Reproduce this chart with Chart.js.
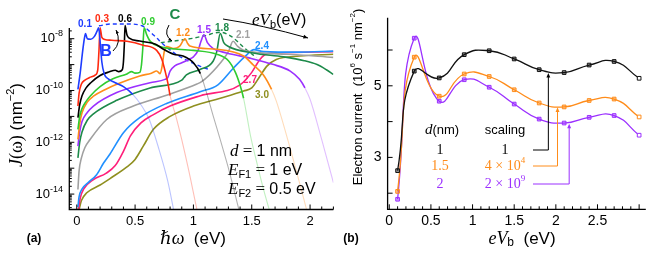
<!DOCTYPE html>
<html>
<head>
<meta charset="utf-8">
<script src="https://cdn.jsdelivr.net/npm/chart.js@4.4.1/dist/chart.umd.min.js"></script>
<style>
  html, body { margin: 0; padding: 0; background: #fff; }
  #wrap { position: relative; width: 664px; height: 257px; }
  #ca { position: absolute; left: 0; top: 0; }
  #cb { position: absolute; left: 340px; top: 0; }
</style>
</head>
<body>
<div id="wrap">
  <canvas id="ca" width="340" height="257"></canvas>
  <canvas id="cb" width="324" height="257"></canvas>
</div>
<script>
// ---- panel (a): pairs [ħω (eV), log10 J(ω)] ----
const eVbLabels = ["0.1", "0.3", "0.6", "0.9", "1.2", "1.5", "1.8", "2.1", "2.4", "2.7", "3.0"];
const J01 = [[0.01,-9.96],[0.03,-9.3],[0.05,-8.5],[0.065,-8.0],[0.075,-7.8],[0.09,-8.0],[0.12,-8.02],[0.15,-7.92],[0.175,-7.7],[0.188,-7.58],[0.2,-8.1],[0.215,-8.9],[0.235,-9.35],[0.27,-9.55],[0.33,-9.7],[0.4,-9.85],[0.48,-10.15],[0.55,-10.55],[0.62,-11.1],[0.7,-12.2],[0.78,-13.5],[0.83,-14.6]];
const J03 = [[0.01,-10.6],[0.02,-10.1],[0.04,-9.75],[0.07,-9.6],[0.11,-9.5],[0.16,-9.4],[0.18,-9.2],[0.19,-8.5],[0.2,-7.58],[0.215,-7.95],[0.24,-8.03],[0.3,-8.06],[0.43,-8.1],[0.57,-8.25],[0.685,-8.45],[0.73,-8.8],[0.76,-9.3],[0.785,-9.8],[0.8,-10.2],[0.85,-11.0],[0.9,-11.9],[0.97,-13.3],[1.03,-14.6]];
const J06 = [[0.01,-11.05],[0.025,-10.55],[0.045,-10.2],[0.08,-9.9],[0.12,-9.7],[0.2,-9.42],[0.28,-9.28],[0.33,-9.22],[0.36,-9.27],[0.39,-9.2],[0.4,-8.9],[0.408,-8.2],[0.414,-7.49],[0.43,-7.85],[0.45,-7.98],[0.54,-8.09],[0.68,-8.22],[0.74,-8.4],[0.83,-8.6],[0.91,-8.67],[1.0,-8.93],[1.06,-9.35],[1.12,-10.2],[1.17,-10.99],[1.23,-11.9],[1.3,-13.0],[1.39,-14.6]];
const J09 = [[0.01,-11.5],[0.025,-11.0],[0.045,-10.7],[0.08,-10.42],[0.114,-10.22],[0.2,-9.85],[0.31,-9.55],[0.43,-9.36],[0.47,-9.27],[0.5,-9.33],[0.54,-9.3],[0.555,-9.0],[0.567,-8.3],[0.577,-7.58],[0.6,-7.85],[0.63,-8.1],[0.71,-8.3],[1.0,-8.45],[1.2,-8.6],[1.3,-8.85],[1.36,-9.3],[1.4,-9.8],[1.43,-10.3],[1.49,-11.76],[1.55,-12.9],[1.6,-13.8],[1.65,-14.6]];
const J12 = [[0.01,-11.89],[0.025,-11.3],[0.045,-10.86],[0.09,-10.45],[0.143,-10.22],[0.25,-9.95],[0.343,-9.76],[0.54,-9.44],[0.64,-9.33],[0.685,-9.25],[0.715,-9.35],[0.73,-9.1],[0.75,-8.5],[0.77,-8.3],[0.83,-8.38],[0.88,-8.3],[0.928,-8.0],[0.95,-8.18],[0.97,-8.28],[1.2,-8.41],[1.43,-8.67],[1.51,-9.0],[1.6,-9.4],[1.67,-9.96],[1.71,-10.4],[1.8,-11.76],[1.9,-13.4],[1.97,-14.6]];
const J15 = [[0.01,-12.15],[0.025,-11.6],[0.045,-11.2],[0.09,-10.85],[0.143,-10.6],[0.343,-10.08],[0.628,-9.7],[0.757,-9.57],[0.78,-9.5],[0.8,-9.25],[0.84,-9.05],[0.9,-8.93],[0.96,-8.8],[1.0,-8.7],[1.04,-8.45],[1.065,-8.1],[1.09,-7.85],[1.12,-8.15],[1.17,-8.38],[1.285,-8.55],[1.485,-8.75],[1.68,-8.99],[1.83,-9.25],[1.91,-9.57],[1.956,-9.9],[2.0,-10.34],[2.1,-11.9],[2.2,-13.56]];
const J18 = [[0.01,-12.6],[0.025,-12.0],[0.045,-11.6],[0.09,-11.15],[0.143,-10.9],[0.343,-10.38],[0.628,-9.9],[0.9,-9.6],[0.92,-9.5],[0.94,-9.4],[1.057,-9.19],[1.17,-8.86],[1.2,-8.5],[1.23,-7.8],[1.26,-8.15],[1.3,-8.3],[1.51,-8.55],[1.77,-8.7],[1.95,-8.85],[2.06,-9.0],[2.14,-9.2],[2.2,-9.38]];
const J21 = [[0.01,-13.82],[0.02,-13.1],[0.04,-12.6],[0.07,-12.2],[0.114,-11.89],[0.257,-11.12],[0.485,-10.6],[0.77,-10.18],[1.03,-9.75],[1.07,-9.66],[1.2,-9.1],[1.3,-8.5],[1.34,-8.1],[1.38,-8.3],[1.43,-8.45],[1.8,-8.6],[2.2,-8.72]];
const J24 = [[0.01,-14.5],[0.02,-14.1],[0.043,-13.82],[0.1,-13.55],[0.17,-13.25],[0.23,-12.8],[0.285,-12.45],[0.4,-11.63],[0.54,-11.05],[0.77,-10.5],[1.057,-10.05],[1.21,-9.78],[1.34,-9.15],[1.45,-8.65],[1.52,-8.42],[1.6,-8.5],[1.9,-8.52],[2.2,-8.48]];
const J27 = [[0.015,-14.6],[0.03,-14.15],[0.06,-13.8],[0.14,-13.45],[0.25,-13.2],[0.33,-12.9],[0.4,-12.35],[0.46,-11.75],[0.55,-11.25],[0.65,-10.95],[0.8,-10.6],[1.06,-10.2],[1.4,-9.78],[1.5,-9.3],[1.57,-8.8],[1.63,-8.58],[1.75,-8.54],[2.2,-8.5]];
const J30 = [[0.02,-14.6],[0.04,-14.25],[0.086,-13.95],[0.2,-13.65],[0.285,-13.4],[0.43,-12.95],[0.5,-12.66],[0.57,-12.15],[0.657,-11.5],[0.8,-11.0],[1.0,-10.6],[1.23,-10.3],[1.43,-10.02],[1.5,-9.9],[1.57,-9.45],[1.63,-9.06],[1.71,-8.8],[1.91,-8.67],[2.2,-8.6]];
// where each curve turns pale (ħω, eV); null = stays solid
const fadeFrom = [0.48, 0.8, 1.06, 1.43, 1.67, 1.956, null, null, null, null, null];
// dashed loci of peaks B and C
const locusB = [[0.19,-7.5],[0.3,-7.43],[0.42,-7.43],[0.56,-7.5],[0.62,-7.7],[0.68,-7.95],[0.75,-8.25],[0.85,-8.6],[0.95,-8.85],[1.05,-9.05],[1.14,-9.2]];
const locusC = [[0.72,-8.15],[0.85,-8.08],[1.0,-7.98],[1.1,-7.88],[1.23,-7.75],[1.32,-7.9],[1.4,-8.2],[1.46,-8.45],[1.54,-8.72]];
const decadeLabels = [-8, -10, -12, -14];

// ---- panel (b): electron current (10^6 s^-1 nm^-2) ----
const eVb = [0.1, 0.3, 0.6, 0.9, 1.2, 1.5, 1.8, 2.1, 2.4, 2.7, 3.0];
const currentD1 = [2.63, 5.41, 5.22, 5.87, 5.98, 5.75, 5.45, 5.37, 5.58, 5.68, 5.21];
const currentD15 = [2.05, 5.80, 4.71, 5.33, 5.26, 4.89, 4.52, 4.41, 4.59, 4.63, 4.13];
const currentD2 = [1.83, 6.33, 4.57, 5.17, 4.96, 4.49, 4.07, 3.96, 4.12, 4.17, 3.62];

const colorsA = ["#1e3cff", "#ff2a10", "#000000", "#30cc30", "#ff8c1a", "#9b30ff", "#1d8a4a", "#a0a0a0", "#2190ff", "#ff1f7a", "#8f8f1f"];
const SANS = '"Liberation Sans", Arial, sans-serif';
const SERIF = '"Liberation Serif", "DejaVu Serif", serif';

function pale(hex, a) {
    const n = parseInt(hex.slice(1), 16);
    return "rgba(" + (n >> 16) + "," + ((n >> 8) & 255) + "," + (n & 255) + "," + a + ")";
}

function toPoints(pairs) {
    return pairs.map(p => ({ x: p[0], y: Math.pow(10, p[1]) }));
}

// draw a row of text pieces: [text, font, dy, color]
function rich(ctx, x, y, parts, align) {
    let w = 0;
    parts.forEach(p => { ctx.font = p[1]; w += ctx.measureText(p[0]).width; });
    let cx = align === "center" ? x - w / 2 : (align === "right" ? x - w : x);
    ctx.textAlign = "left";
    ctx.textBaseline = "middle";
    parts.forEach(p => {
        ctx.font = p[1];
        if (p[3]) ctx.fillStyle = p[3];
        ctx.fillText(p[0], cx, y + (p[2] || 0));
        cx += ctx.measureText(p[0]).width;
    });
}

function arrowHead(ctx, x, y, ang, size) {
    ctx.beginPath();
    ctx.moveTo(x, y);
    ctx.lineTo(x - size * Math.cos(ang - 0.4), y - size * Math.sin(ang - 0.4));
    ctx.lineTo(x - size * Math.cos(ang + 0.4), y - size * Math.sin(ang + 0.4));
    ctx.closePath();
    ctx.fill();
}

function curvedArrow(ctx, x0, y0, cx, cy, x1, y1, color, size) {
    ctx.strokeStyle = color;
    ctx.fillStyle = color;
    ctx.lineWidth = 1;
    ctx.beginPath();
    ctx.moveTo(x0, y0);
    ctx.quadraticCurveTo(cx, cy, x1, y1);
    ctx.stroke();
    arrowHead(ctx, x1, y1, Math.atan2(y1 - cy, x1 - cx), size);
}

// ---------------- panel (a) ----------------
const seriesA = [J01, J03, J06, J09, J12, J15, J18, J21, J24, J27, J30];
const datasetsA = seriesA.map((pairs, i) => {
    const col = colorsA[i];
    const f = fadeFrom[i];
    return {
        label: eVbLabels[i],
        data: toPoints(pairs),
        borderColor: col,
        borderWidth: 1.6,
        pointRadius: 0,
        cubicInterpolationMode: "monotone",
        segment: {
            borderColor: c => (f !== null && c.p0.parsed.x >= f - 1e-6) ? pale(col, 0.3) : col,
            borderWidth: c => (f !== null && c.p0.parsed.x >= f - 1e-6) ? 1.1 : 1.6
        }
    };
});
datasetsA.push({
    label: "B", data: toPoints(locusB), borderColor: "#1e3cff", borderWidth: 1.4,
    borderDash: [4, 3], pointRadius: 0, cubicInterpolationMode: "monotone", clip: false
});
datasetsA.push({
    label: "C", data: toPoints(locusC), borderColor: "#1d8a4a", borderWidth: 1.4,
    borderDash: [4, 3], pointRadius: 0, cubicInterpolationMode: "monotone", clip: false
});

const decorA = {
    id: "decorA",
    afterDraw(chart) {
        const { ctx, chartArea: a, scales: { x, y } } = chart;
        ctx.save();
        ctx.strokeStyle = "#000";
        ctx.lineWidth = 1.3;
        ctx.beginPath();
        ctx.moveTo(a.left, 28);
        ctx.lineTo(a.left, a.bottom);
        ctx.lineTo(a.right, a.bottom);
        ctx.stroke();
        ctx.lineWidth = 1;
        // x ticks (inward)
        for (let i = 0; i <= 22; i++) {
            const px = x.getPixelForValue(i / 10);
            const len = i % 5 === 0 ? 5 : 3;
            ctx.beginPath(); ctx.moveTo(px, a.bottom); ctx.lineTo(px, a.bottom - len); ctx.stroke();
        }
        // y ticks, log decades with minor ticks
        for (let e = -15; e <= -7; e++) {
            for (let k = 1; k <= 9; k++) {
                const v = k * Math.pow(10, e);
                if (v < y.min || v > y.max) continue;
                const py = y.getPixelForValue(v);
                if (py < 28) continue;
                const len = k === 1 ? 5 : 2.5;
                ctx.beginPath(); ctx.moveTo(a.left, py); ctx.lineTo(a.left + len, py); ctx.stroke();
            }
        }
        ctx.fillStyle = "#000";
        // tick labels
        for (let i = 0; i <= 4; i++) {
            const v = i / 2;
            rich(ctx, x.getPixelForValue(v), a.bottom + 12, [[String(v), "13px " + SANS]], "center");
        }
        decadeLabels.forEach(e => {
            const py = y.getPixelForValue(Math.pow(10, e));
            rich(ctx, 63, py, [["10", "13px " + SANS], [String(e), "9px " + SANS, -5]], "right");
        });
        // axis titles
        rich(ctx, 193, 239, [["\u210F\u03C9", "italic 18px " + SERIF], ["  (eV)", "17px " + SANS]], "center");
        ctx.save();
        ctx.translate(17, 125);
        ctx.rotate(-Math.PI / 2);
        rich(ctx, 0, 0, [["J", "italic 18px " + SERIF], ["(\u03C9)", "18px " + SERIF], [" (nm", "17px " + SANS], ["\u22122", "11px " + SANS, -6], [")", "17px " + SANS]], "center");
        ctx.restore();
        rich(ctx, 34, 239, [["(a)", "bold 12px " + SANS]], "center");

        // curve labels
        const labPos = [[85, 24], [102, 19], [125, 19], [148, 22], [183, 33], [204, 30], [222, 28], [243, 35], [262, 46], [250, 80], [262, 95]];
        labPos.forEach((p, i) => {
            rich(ctx, p[0], p[1], [[eVbLabels[i], "bold 10px " + SANS, 0, colorsA[i]]], "center");
        });
        // B and C markers with arrows
        rich(ctx, 106, 52, [["B", "bold 16px " + SANS, 0, "#1e3cff"]], "center");
        curvedArrow(ctx, 113, 51, 122, 43, 116, 30, "#000", 4);
        rich(ctx, 175, 15, [["C", "bold 15px " + SANS, 0, "#1d8a4a"]], "center");
        curvedArrow(ctx, 169, 25, 163, 35, 172, 41, "#000", 4);
        // eVb arrow
        rich(ctx, 252, 21, [["eV", "italic 17px " + SERIF, 0, "#000"], ["b", "11px " + SANS, 4], ["(eV)", "16px " + SANS]], "left");
        curvedArrow(ctx, 223, 19, 262, 25, 308, 38, "#000", 5);
        // parameters
        ctx.fillStyle = "#000";
        rich(ctx, 230, 152, [["d", "italic 17px " + SERIF], [" = ", "17px " + SERIF], ["1 nm", "16px " + SANS]], "left");
        rich(ctx, 228, 171, [["E", "italic 17px " + SERIF], ["F1", "11px " + SANS, 4], [" = ", "17px " + SERIF], ["1 eV", "16px " + SANS]], "left");
        rich(ctx, 228, 190, [["E", "italic 17px " + SERIF], ["F2", "11px " + SANS, 4], [" = ", "17px " + SERIF], ["0.5 eV", "16px " + SANS]], "left");
        ctx.restore();
    }
};

new Chart(document.getElementById("ca"), {
    type: "line",
    data: { datasets: datasetsA },
    options: {
        responsive: false,
        animation: false,
        layout: { padding: { left: 69.3, right: 6.6, top: 20, bottom: 47.5 } },
        plugins: { legend: { display: false }, tooltip: { enabled: false } },
        scales: {
            x: { type: "linear", display: false, min: -0.064, max: 2.2 },
            y: { type: "logarithmic", display: false, min: Math.pow(10, -14.595), max: Math.pow(10, -7.278) }
        }
    },
    plugins: [decorA]
});

// ---------------- panel (b) ----------------
function seriesB(vals, col) {
    return {
        data: eVb.map((v, i) => ({ x: v, y: vals[i] })),
        borderColor: col,
        borderWidth: 1.3,
        tension: 0.5,
        pointStyle: "rect",
        pointRadius: 2.6,
        pointBorderWidth: 1,
        pointBorderColor: col,
        pointBackgroundColor: eVb.map((v, i) => i === eVb.length - 1 ? "#fff" : pale(col, 0.45))
    };
}

const decorB = {
    id: "decorB",
    afterDraw(chart) {
        const { ctx, chartArea: a, scales: { x, y } } = chart;
        ctx.save();
        ctx.strokeStyle = "#000";
        ctx.lineWidth = 1.3;
        ctx.beginPath();
        ctx.moveTo(a.left, a.top);
        ctx.lineTo(a.left, a.bottom);
        ctx.lineTo(a.right, a.bottom);
        ctx.stroke();
        ctx.lineWidth = 1;
        for (let i = 0; i <= 30; i++) {
            const px = x.getPixelForValue(i / 10);
            const len = i % 5 === 0 ? 5 : 3;
            ctx.beginPath(); ctx.moveTo(px, a.bottom); ctx.lineTo(px, a.bottom - len); ctx.stroke();
        }
        for (let v = 2; v <= 6; v++) {
            const py = y.getPixelForValue(v);
            ctx.beginPath(); ctx.moveTo(a.left, py); ctx.lineTo(a.left + 5, py); ctx.stroke();
        }
        ctx.fillStyle = "#000";
        [0, 0.5, 1, 1.5, 2, 2.5].forEach(v => {
            rich(ctx, x.getPixelForValue(v), a.bottom + 12, [[String(v), "14px " + SANS]], "center");
        });
        [3, 5].forEach(v => {
            rich(ctx, a.left - 6, y.getPixelForValue(v), [[String(v), "14px " + SANS]], "right");
        });
        // axis titles
        rich(ctx, 182, 239, [["eV", "italic 18px " + SERIF], ["b", "12px " + SANS, 4], ["  (eV)", "17px " + SANS]], "center");
        ctx.save();
        ctx.translate(18, 97);
        ctx.rotate(-Math.PI / 2);
        rich(ctx, 0, 0, [["Electron current  (10", "13px " + SANS], ["6", "8px " + SANS, -5], [" s", "13px " + SANS], ["\u22121", "8px " + SANS, -5], [" nm", "13px " + SANS], ["\u22122", "8px " + SANS, -5], [")", "13px " + SANS]], "center");
        ctx.restore();
        rich(ctx, 11, 239, [["(b)", "bold 12px " + SANS]], "center");

        // legend table
        rich(ctx, 102, 130, [["d", "italic 15px " + SERIF], ["(nm)", "13px " + SANS]], "center");
        rich(ctx, 165, 130, [["scaling", "13px " + SANS]], "center");
        const rows = [["1", "1", "", "#000"], ["1.5", "4 \u00D7 10", "4", "#ff8c1a"], ["2", "2 \u00D7 10", "9", "#9b30ff"]];
        const rowY = [150, 166, 184];
        const tips = [[1.91, 5.36], [2.02, 4.40], [2.16, 3.94]];
        rows.forEach((r, i) => {
            rich(ctx, 100, rowY[i], [[r[0], "14px " + SERIF, 0, r[3]]], "center");
            rich(ctx, 165, rowY[i], [[r[1], "14px " + SERIF, 0, r[3]], [r[2], "9px " + SERIF, -5]], "center");
            const tx = x.getPixelForValue(tips[i][0]);
            const ty = y.getPixelForValue(tips[i][1]);
            ctx.strokeStyle = r[3];
            ctx.fillStyle = r[3];
            ctx.lineWidth = 1;
            ctx.beginPath();
            ctx.moveTo(193, rowY[i]);
            ctx.lineTo(tx, rowY[i]);
            ctx.lineTo(tx, ty + 3);
            ctx.stroke();
            arrowHead(ctx, tx, ty, -Math.PI / 2, 5);
        });
        ctx.restore();
    }
};

new Chart(document.getElementById("cb"), {
    type: "line",
    data: {
        datasets: [
            seriesB(currentD1, "#111111"),
            seriesB(currentD15, "#ff8c1a"),
            seriesB(currentD2, "#9b30ff")
        ]
    },
    options: {
        responsive: false,
        animation: false,
        layout: { padding: { left: 47.6, right: 18.2, top: 17.8, bottom: 47.7 } },
        plugins: { legend: { display: false }, tooltip: { enabled: false } },
        scales: {
            x: { type: "linear", display: false, min: -0.02, max: 3.08 },
            y: { type: "linear", display: false, min: 1.55, max: 6.9 }
        }
    },
    plugins: [decorB]
});
</script>
</body>
</html>
